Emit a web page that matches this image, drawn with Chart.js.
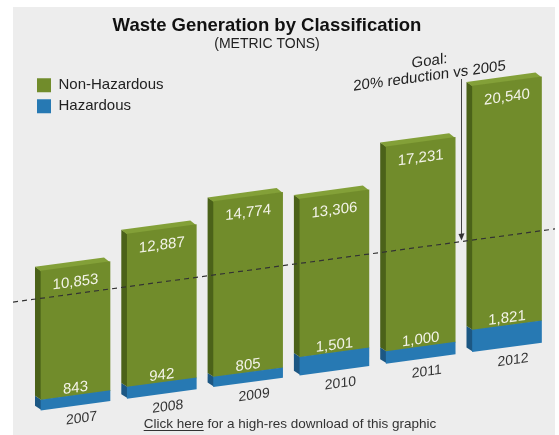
<!DOCTYPE html>
<html lang="en">
<head>
<meta charset="UTF-8">
<title>Waste Generation by Classification</title>
<script src="https://cdn.jsdelivr.net/npm/chart.js"></script>
<style>
  html, body { margin: 0; padding: 0; background: #fff; }
  #wrap { width: 559px; height: 435px; }
</style>
</head>
<body>
<div id="wrap"><canvas id="wasteChart" width="559" height="435"></canvas></div>
<script>
// data (metric tons)
const YEARS = [2007, 2008, 2009, 2010, 2011, 2012];
const NON_HAZARDOUS = [10853, 12887, 14774, 13306, 17231, 20540];
const HAZARDOUS = [843, 942, 805, 1501, 1000, 1821];
const GOAL = 9400;
const GOAL_TEXT = ['Goal:', '20% reduction vs 2005'];
const FOOTER_LINK = 'Click here';
const FOOTER_REST = ' for a high-res download of this graphic';

const FONT = "'Liberation Sans', Arial, Helvetica, sans-serif";
Chart.defaults.font.family = FONT;
Chart.defaults.color = '#222';

// fake perspective: vertical shear + extruded faces
const SHEAR = 0.135;
const SHEAR_X0 = 41;
const DEPTH_X = -6, DEPTH_Y = -5;

function shear(ctx) {
    ctx.transform(1, -SHEAR, 0, 1, 0, SHEAR * SHEAR_X0);
}

function poly(ctx, pts) {
    ctx.beginPath();
    ctx.moveTo(pts[0][0], pts[0][1]);
    for (let i = 1; i < pts.length; i++) ctx.lineTo(pts[i][0], pts[i][1]);
    ctx.closePath();
    ctx.fill();
}

const panel = {
    id: 'panel',
    beforeDraw(chart) {
        const ctx = chart.ctx;
        ctx.save();
        ctx.fillStyle = '#ffffff';
        ctx.fillRect(0, 0, chart.width, chart.height);
        ctx.fillStyle = '#ededed';
        ctx.fillRect(13, 7, 542, chart.height - 7);
        ctx.restore();
    }
};

const perspective = {
    id: 'perspective',
    beforeDatasetsDraw(chart) {
        const ctx = chart.ctx;
        ctx.save();
        shear(ctx);
        chart.data.datasets.forEach((ds, di) => {
            chart.getDatasetMeta(di).data.forEach(bar => {
                const { x, y, base, width } = bar.getProps(['x', 'y', 'base', 'width'], true);
                const l = x - width / 2, r = x + width / 2;
                ctx.fillStyle = ds.sideColor;
                poly(ctx, [[l + 0.5, y], [l + DEPTH_X, y + DEPTH_Y], [l + DEPTH_X, base + DEPTH_Y], [l + 0.5, base]]);
                if (ds.topColor) {
                    ctx.fillStyle = ds.topColor;
                    poly(ctx, [[l, y + 0.5], [l + DEPTH_X, y + DEPTH_Y], [r + DEPTH_X, y + DEPTH_Y], [r, y + 0.5]]);
                }
            });
        });
    },
    afterDatasetsDraw(chart) {
        const ctx = chart.ctx;
        const xs = chart.scales.x, ys = chart.scales.y;
        const hz = chart.getDatasetMeta(0).data;
        const nh = chart.getDatasetMeta(1).data;

        // value labels
        ctx.fillStyle = '#f3f3e8';
        ctx.font = '15px ' + FONT;
        ctx.textAlign = 'center';
        ctx.textBaseline = 'middle';
        nh.forEach((bar, i) => ctx.fillText(NON_HAZARDOUS[i].toLocaleString('en-US'), bar.x, bar.y + 16));
        ctx.textBaseline = 'alphabetic';
        hz.forEach((bar, i) => ctx.fillText(HAZARDOUS[i].toLocaleString('en-US'), bar.x, bar.y - 3));

        // year labels
        ctx.fillStyle = '#333';
        ctx.font = '14px ' + FONT;
        ctx.textBaseline = 'middle';
        const y0 = ys.getPixelForValue(0);
        YEARS.forEach(yr => ctx.fillText(String(yr), xs.getPixelForValue(yr) + 6, y0 + 14));

        // goal line
        const gy = ys.getPixelForValue(GOAL);
        ctx.save();
        ctx.strokeStyle = '#333';
        ctx.lineWidth = 1.2;
        ctx.setLineDash([5, 4]);
        ctx.beginPath();
        ctx.moveTo(13, gy);
        ctx.lineTo(555, gy);
        ctx.stroke();
        ctx.restore();

        // arrow between 2011 and 2012
        const ax = Math.round((nh[4].x + nh[4].width / 2 + nh[5].x - nh[5].width / 2 + DEPTH_X) / 2) + 0.5;
        const top = chart.chartArea.top;
        ctx.strokeStyle = '#444';
        ctx.lineWidth = 1;
        ctx.beginPath();
        ctx.moveTo(ax, top + 64);
        ctx.lineTo(ax, gy - 6);
        ctx.stroke();
        ctx.fillStyle = '#333';
        poly(ctx, [[ax - 3, gy - 8], [ax + 3, gy - 8], [ax, gy - 1]]);

        // goal text
        ctx.fillStyle = '#222';
        ctx.font = '15px ' + FONT;
        ctx.textBaseline = 'middle';
        ctx.fillText(GOAL_TEXT[0], ax - 32, top + 42);
        ctx.fillText(GOAL_TEXT[1], ax - 32, top + 57);

        ctx.restore();

        // footer link
        ctx.save();
        ctx.font = '13.5px ' + FONT;
        ctx.fillStyle = '#333';
        ctx.textAlign = 'left';
        ctx.textBaseline = 'alphabetic';
        const w1 = ctx.measureText(FOOTER_LINK).width;
        const w2 = ctx.measureText(FOOTER_REST).width;
        const fx = 290 - (w1 + w2) / 2, fy = 428;
        ctx.fillText(FOOTER_LINK, fx, fy);
        ctx.fillText(FOOTER_REST, fx + w1, fy);
        ctx.strokeStyle = '#333';
        ctx.lineWidth = 1;
        ctx.beginPath();
        ctx.moveTo(fx, fy + 2.5);
        ctx.lineTo(fx + w1, fy + 2.5);
        ctx.stroke();
        ctx.restore();
    }
};

new Chart(document.getElementById('wasteChart'), {
    type: 'bar',
    data: {
        labels: YEARS,
        datasets: [
            {
                label: 'Hazardous',
                data: HAZARDOUS,
                backgroundColor: '#2779b3',
                borderColor: '#2779b3',
                borderWidth: 0,
                sideColor: '#1c5783',
                barThickness: 69,
                clip: false
            },
            {
                label: 'Non-Hazardous',
                data: NON_HAZARDOUS,
                backgroundColor: '#718c2b',
                borderColor: '#718c2b',
                borderWidth: 0,
                sideColor: '#4b6219',
                topColor: '#83a038',
                barThickness: 69,
                clip: false
            }
        ]
    },
    options: {
        responsive: false,
        animation: false,
        devicePixelRatio: 1,
        layout: { padding: { left: 31, right: 56, top: 7, bottom: 25 } },
        scales: {
            // the legend column takes 136px on the left; the x range puts the bars back under it
            x: { type: 'linear', display: false, stacked: true, offset: false, min: 2008.0603, max: 2011.9537 },
            y: { display: false, stacked: true, min: 0, max: 28470 }
        },
        plugins: {
            title: {
                display: true,
                text: 'Waste Generation by Classification',
                color: '#111',
                font: { size: 18.5, weight: 'bold', lineHeight: 1.1 },
                padding: { top: 9, bottom: 0 }
            },
            subtitle: {
                display: true,
                text: '(METRIC TONS)',
                color: '#222',
                font: { size: 14, lineHeight: 1.1 },
                padding: { top: 0, bottom: 20 }
            },
            legend: {
                position: 'left',
                fullSize: false,
                align: 'start',
                reverse: true,
                maxWidth: 136,
                labels: { boxWidth: 14, boxHeight: 14, padding: 6, color: '#222', font: { size: 15 } }
            },
            tooltip: { enabled: false }
        }
    },
    plugins: [panel, perspective]
});
</script>
</body>
</html>
